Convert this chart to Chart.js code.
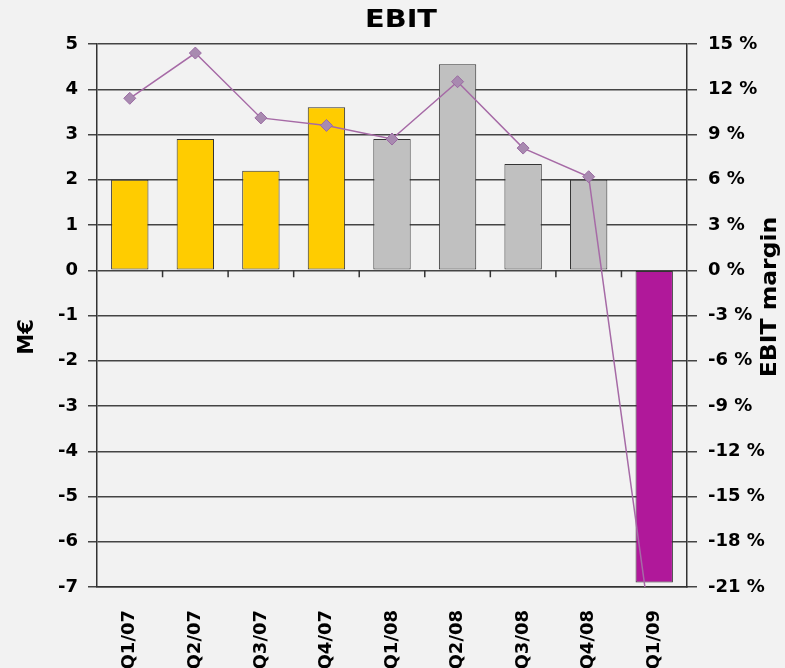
<!DOCTYPE html>
<html>
<head>
<meta charset="utf-8">
<title>EBIT</title>
<script src="https://cdn.jsdelivr.net/npm/chart.js@4"></script>
<style>
  html, body { margin: 0; padding: 0; background: #f2f2f2; overflow: hidden; }
  #wrap { position: relative; width: 785px; height: 668px; }
</style>
</head>
<body>
<div id="wrap"><canvas id="ebitChart"></canvas></div>
<script>
// Chart data
const quarters = ['Q1/07', 'Q2/07', 'Q3/07', 'Q4/07', 'Q1/08', 'Q2/08', 'Q3/08', 'Q4/08', 'Q1/09'];
const ebitValues = [2.0, 2.9, 2.2, 3.6, 2.9, 4.55, 2.35, 2.0, -6.9];
const marginValues = [11.4, 14.4, 10.1, 9.6, 8.7, 12.5, 8.1, 6.2, -25.5];
const leftTicks = [-7, -6, -5, -4, -3, -2, -1, 0, 1, 2, 3, 4, 5];
const rightTicks = [-21, -18, -15, -12, -9, -6, -3, 0, 3, 6, 9, 12, 15];

// Bar colours by period (2007 yellow, 2008 grey, 2009 purple)
const barColors = ['#FFCC00', '#FFCC00', '#FFCC00', '#FFCC00',
                   '#C0C0C0', '#C0C0C0', '#C0C0C0', '#C0C0C0', '#B0189A'];

const FONT = 'DejaVu Sans, Verdana, sans-serif';

/**
 * Draw a bold text, stretched along its own direction (Verdana-like width)
 */
function drawWideText(ctx, text, x, y, size, angle, stretch) {
  ctx.save();
  ctx.fillStyle = '#000';
  ctx.textAlign = 'center';
  ctx.textBaseline = 'middle';
  ctx.font = 'bold ' + size + 'px ' + FONT;
  ctx.translate(x, y);
  ctx.rotate(angle);
  ctx.scale(stretch, 1);
  ctx.fillText(text, 0, 0);
  ctx.restore();
}

/**
 * Draws chart title, axis titles and the small category ticks on the zero line
 */
const annotationsPlugin = {
  id: 'annotations',
  afterDraw(chart) {
    const ctx = chart.ctx;
    const x = chart.scales.x;
    const y = chart.scales.y;

    // category separators hanging below the zero line
    const zeroY = y.getPixelForValue(0);
    ctx.save();
    ctx.strokeStyle = '#333';
    ctx.lineWidth = 1.5;
    ctx.beginPath();
    for (let i = 0; i < quarters.length - 1; i++) {
      const px = (x.getPixelForValue(i) + x.getPixelForValue(i + 1)) / 2;
      ctx.moveTo(px, zeroY);
      ctx.lineTo(px, zeroY + 7);
    }
    ctx.stroke();
    ctx.restore();

    drawWideText(ctx, 'EBIT', 401, 21, 24, 0, 1.2);
    drawWideText(ctx, 'M€', 28, 337, 21, -Math.PI / 2, 1.0);
    drawWideText(ctx, 'EBIT margin', 771, 297, 21, -Math.PI / 2, 1.12);
  }
};

function initEbitChart() {
  const ctx = document.getElementById('ebitChart');
  if (!ctx) return;

  Chart.defaults.font.family = FONT;
  Chart.defaults.color = '#000';

  new Chart(ctx, {
    type: 'bar',
    data: {
      labels: quarters,
      datasets: [
        {
          type: 'line',
          label: 'EBIT margin',
          data: marginValues,
          yAxisID: 'y1',
          borderColor: '#A66AA6',
          borderWidth: 1.5,
          pointStyle: 'rectRot',
          pointRadius: 6,
          pointBackgroundColor: '#A88AB0',
          pointBorderColor: '#9A6AA2',
          pointBorderWidth: 1,
          tension: 0,
          order: 0
        },
        {
          label: 'EBIT',
          data: ebitValues,
          yAxisID: 'y',
          backgroundColor: barColors,
          borderColor: '#333',
          borderWidth: 1,
          borderSkipped: false,
          barPercentage: 0.57,
          categoryPercentage: 1,
          order: 1
        }
      ]
    },
    options: {
      responsive: true,
      maintainAspectRatio: false,
      animation: false,
      layout: {
        padding: { top: 44, left: 0, right: 0, bottom: 0 }
      },
      plugins: {
        legend: { display: false },
        title: { display: false },
        tooltip: { enabled: false }
      },
      scales: {
        x: {
          grid: { display: false, drawTicks: false },
          border: { display: true, color: '#333', width: 1.5 },
          ticks: {
            minRotation: 90,
            maxRotation: 90,
            padding: 23,
            font: { size: 18, weight: 'bold' }
          },
          afterFit(scale) { scale.height = 81; }
        },
        y: {
          position: 'left',
          min: -7,
          max: 5,
          afterBuildTicks(scale) {
            scale.ticks = leftTicks.map(v => ({ value: v }));
          },
          grid: {
            color: '#444',
            lineWidth: 1.5,
            drawTicks: true,
            tickLength: 9
          },
          border: { display: true, color: '#333', width: 1.5 },
          ticks: {
            padding: 10,
            font: { size: 18, weight: 'bold' }
          },
          afterFit(scale) { scale.width = 97; }
        },
        y1: {
          position: 'right',
          min: -21,
          max: 15,
          afterBuildTicks(scale) {
            scale.ticks = rightTicks.map(v => ({ value: v }));
          },
          grid: {
            color: '#444',
            lineWidth: 1.5,
            drawOnChartArea: false,
            drawTicks: true,
            tickLength: 10
          },
          border: { display: true, color: '#333', width: 1.5 },
          ticks: {
            padding: 11,
            font: { size: 18, weight: 'bold' },
            callback: function(value) {
              return value + ' %';
            }
          },
          afterFit(scale) { scale.width = 98; }
        }
      }
    },
    plugins: [annotationsPlugin]
  });
}

document.addEventListener('DOMContentLoaded', initEbitChart);
</script>
</body>
</html>
